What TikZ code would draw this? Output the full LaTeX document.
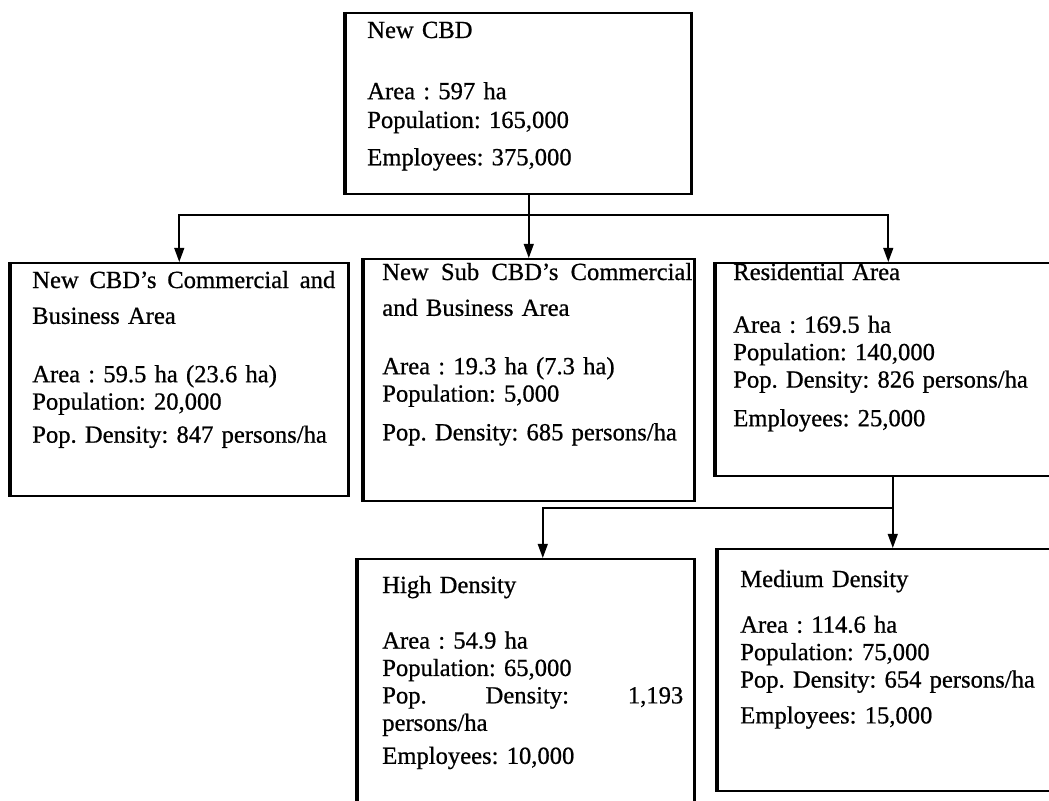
\documentclass[tikz,border=0pt]{standalone}
\usepackage{fontspec}
\setmainfont[FakeBold=0.7]{Liberation Serif}
\usetikzlibrary{arrows.meta, positioning}

\newlength\px
\setlength\px{0.025cm}

\tikzset{
  frame/.style={draw, line width=1.1pt, anchor=north west, inner sep=0pt},
  side/.style={line width=2.6pt},
  info/.style={anchor=base west, inner sep=0pt, align=left, text width=330\px,
    font=\fontsize{17.5}{19.5}\selectfont\frenchspacing},
  link/.style={line width=1.2pt},
  feed/.style={link, -{Triangle[length=10pt, width=7pt]}}
}

\begin{document}
\begin{tikzpicture}[x=\px, y=-\px]
  \useasboundingbox (0,0) rectangle (1049,800);
  \clip (0,0) rectangle (1049,800);

  % frames
  \node[frame, minimum width=345\px, minimum height=181\px] (newcbd) at (345,12) {};
  \node[frame, minimum width=337\px, minimum height=233\px] (cbdbiz) at (10,262) {};
  \node[frame, minimum width=330\px, minimum height=242\px] (subbiz) at (363,258) {};
  \node[frame, minimum width=345\px, minimum height=213\px] (resid) at (715,262) {};
  \node[frame, minimum width=336\px, minimum height=260\px] (high) at (357,558) {};
  \node[frame, minimum width=350\px, minimum height=242\px] (medium) at (717,548) {};

  \foreach \b in {newcbd,cbdbiz,subbiz,resid,high,medium}
    \draw[side] (\b.north west) -- (\b.south west) (\b.north east) -- (\b.south east);

  % contents
  \node[info] (newcbd-t) at (367,38) {New CBD\\[24pt]
    Area : 597 ha\\[1pt]
    Population: 165,000\\[7pt]
    Employees: 375,000};
  \node[info] (cbdbiz-t) at (32,288) {\makebox[303\px][s]{New\hfill CBD's\hfill Commercial\hfill and}\\[6pt]
    Business Area\\[22pt]
    Area : 59.5 ha (23.6 ha)\\
    Population: 20,000\\[4pt]
    Pop. Density: 847 persons/ha};
  \node[info] (subbiz-t) at (382,280) {\makebox[310\px][s]{New\hfill Sub\hfill CBD's\hfill Commercial}\\[6pt]
    and Business Area\\[22pt]
    Area : 19.3 ha (7.3 ha)\\
    Population: 5,000\\[8pt]
    Pop. Density: 685 persons/ha};
  \node[info] (resid-t) at (733,280) {Residential Area\\[18pt]
    Area : 169.5 ha\\
    Population: 140,000\\
    Pop. Density: 826 persons/ha\\[8pt]
    Employees: 25,000};
  \node[info] (high-t) at (382,593) {High Density\\[20pt]
    Area : 54.9 ha\\
    Population: 65,000\\
    \makebox[301\px][s]{Pop.\hfill Density:\hfill 1,193}\\
    persons/ha\\[4pt]
    Employees: 10,000};
  \node[info] (medium-t) at (740,587) {Medium Density\\[13pt]
    Area : 114.6 ha\\
    Population: 75,000\\
    Pop. Density: 654 persons/ha\\[6pt]
    Employees: 15,000};

  % connectors
  \coordinate (hub1) at (528,215);
  \coordinate (hub2) at (892,508);
  \draw[feed] (newcbd.south -| subbiz.north) -- (subbiz.north);
  \draw[feed] (hub1) -| (cbdbiz.north);
  \draw[feed] (hub1) -| (resid.north);
  \draw[feed] (resid.south -| medium.north) -- (medium.north);
  \draw[feed] (hub2) -| ([xshift=17\px]high.north);
\end{tikzpicture}
\end{document}
